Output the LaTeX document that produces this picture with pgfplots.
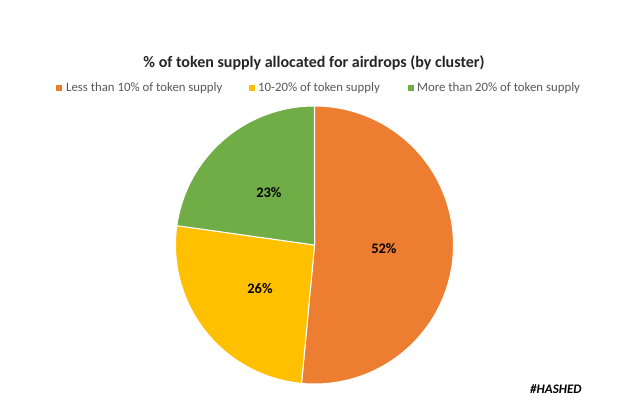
\documentclass[border=0pt]{standalone}
\usepackage{pgfplots}
\pgfplotsset{compat=1.18}
\usepgfplotslibrary{polar}
\usepackage{fontspec}
\setmainfont{Carlito}
\definecolor{cOrange}{HTML}{ED7D31}
\definecolor{cYellow}{HTML}{FFC000}
\definecolor{cGreen}{HTML}{70AD47}
\definecolor{cText}{HTML}{595959}
\begin{document}
\begin{tikzpicture}[x=1pt,y=1pt]
\path[use as bounding box, fill=white] (0,0) rectangle (640,413);
% shares (%)
\def\vA{52}\def\vB{26}\def\vC{23}
\pgfmathsetmacro{\tot}{\vA+\vB+\vC}
\pgfmathsetmacro{\aS}{90}
\pgfmathsetmacro{\aE}{90-\vA/\tot*360}
\pgfmathsetmacro{\bE}{\aE-\vB/\tot*360}
\pgfmathsetmacro{\cE}{\bE-\vC/\tot*360}
\pgfmathsetmacro{\mA}{(\aS+\aE)/2}
\pgfmathsetmacro{\mB}{(\aE+\bE)/2}
\pgfmathsetmacro{\mC}{(\bE+\cE)/2}
\node[font=\bfseries\fontsize{16}{18}\selectfont, text=black!85] at (314,413-63) {\% of token supply allocated for airdrops (by cluster)};
% legend
\fill[cOrange] (56,413-91) rectangle (62,413-85);
\node[anchor=west, inner sep=0, font=\fontsize{12.8}{15}\selectfont, text=cText] at (66,413-88) {Less than 10\% of token supply};
\fill[cYellow] (249,413-91) rectangle (255,413-85);
\node[anchor=west, inner sep=0, font=\fontsize{12.8}{15}\selectfont, text=cText] at (258,413-88) {10-20\% of token supply};
\fill[cGreen] (408,413-91) rectangle (414,413-85);
\node[anchor=west, inner sep=0, font=\fontsize{12.8}{15}\selectfont, text=cText] at (417,413-88) {More than 20\% of token supply};
\begin{polaraxis}[at={(314.5pt,168pt)}, anchor=center, scale only axis, width=278pt, height=278pt, hide axis, ymin=0, ymax=1, clip=false]
\addplot[fill=cOrange, draw=white, line width=1pt, domain=\aE:\aS, samples=150] {1} -- (axis cs:0,0) -- cycle;
\addplot[fill=cYellow, draw=white, line width=1pt, domain=\bE:\aE, samples=80] {1} -- (axis cs:0,0) -- cycle;
\addplot[fill=cGreen, draw=white, line width=1pt, domain=\cE:\bE, samples=80] {1} -- (axis cs:0,0) -- cycle;
\node[font=\bfseries\fontsize{14.5}{16}\selectfont] at (axis cs:\mA,0.5) {52\%};
\node[font=\bfseries\fontsize{14.5}{16}\selectfont] at (axis cs:\mB,0.5) {26\%};
\node[font=\bfseries\fontsize{14.5}{16}\selectfont] at (axis cs:\mC,0.5) {23\%};
\end{polaraxis}
\node[font=\bfseries\itshape\fontsize{13}{15}\selectfont, anchor=west, inner sep=0] at (530,413-389) {\#HASHED};
\end{tikzpicture}
\end{document}
